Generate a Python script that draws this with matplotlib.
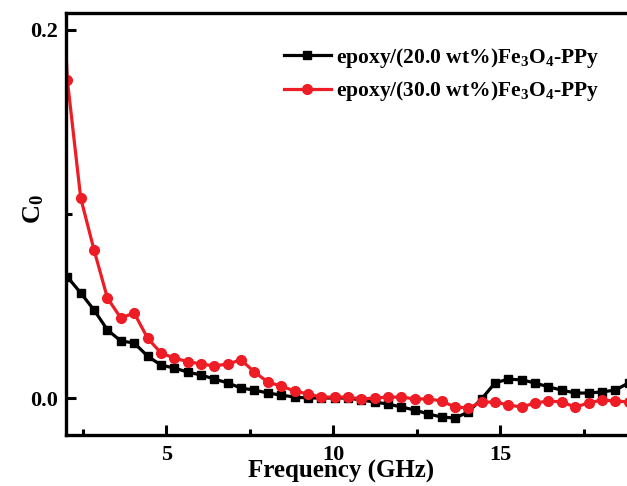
#!/usr/bin/env python3
# -*- coding: utf-8 -*-

"""
C0 versus frequency for the two epoxy/Fe3O4-PPy composites.
"""

import numpy as np
from matplotlib import pyplot as plt
from matplotlib.ticker import MultipleLocator

# frequency grid (GHz), 0.4 GHz step
freq = [2.04 + 0.4 * k for k in range(43)]

c0_20 = [0.0658, 0.0571, 0.0478, 0.0370, 0.0310, 0.0299, 0.0228, 0.0179, 0.0163,
         0.0141, 0.0125, 0.0103, 0.0082, 0.0054, 0.0043, 0.0027, 0.0016, 0.0005,
         0.0000, 0.0000, 0.0000, 0.0000, -0.0011, -0.0022, -0.0033, -0.0049,
         -0.0065, -0.0087, -0.0103, -0.0109, -0.0076, -0.0005, 0.0082, 0.0103,
         0.0098, 0.0082, 0.0060, 0.0043, 0.0027, 0.0027, 0.0033, 0.0043, 0.0082]

# the 30 wt% curve has one extra point just below 2 GHz
freq_30 = [1.9] + freq
c0_30 = [0.227, 0.1728, 0.1087, 0.0804, 0.0543, 0.0435, 0.0462, 0.0326, 0.0245,
         0.0217, 0.0198, 0.0185, 0.0174, 0.0185, 0.0207, 0.0141, 0.0087, 0.0065,
         0.0038, 0.0022, 0.0005, 0.0005, 0.0005, -0.0005, 0.0000, 0.0005, 0.0005,
         -0.0005, -0.0005, -0.0016, -0.0049, -0.0054, -0.0022, -0.0022, -0.0038,
         -0.0049, -0.0027, -0.0016, -0.0022, -0.0049, -0.0027, -0.0011, -0.0016,
         -0.0022]

labels = [r"epoxy/(20.0 wt%)Fe$_3$O$_4$-PPy", r"epoxy/(30.0 wt%)Fe$_3$O$_4$-PPy"]

plt.rcParams["font.family"] = "Liberation Serif"
plt.rcParams["font.weight"] = "bold"
plt.rcParams["mathtext.fontset"] = "custom"
plt.rcParams["mathtext.rm"] = "Liberation Serif:bold"
plt.rcParams["mathtext.it"] = "Liberation Serif:bold"
plt.rcParams["mathtext.bf"] = "Liberation Serif:bold"

fig = plt.figure(figsize=(6.27, 4.86), dpi=100)
ax = fig.add_axes([66 / 627, 51 / 486, (634 - 66) / 627, 422 / 486])

ax.plot(freq, c0_20, "-", color="black", lw=2.3, marker="s", ms=6, label=labels[0])
ax.plot(freq_30, c0_30, "-", color="#ee1c25", lw=2.3, marker="o", ms=7, label=labels[1])

ax.set_xlim(2, 19)
ax.set_ylim(-0.0201, 0.2092)
ax.xaxis.set_major_locator(MultipleLocator(5))
ax.xaxis.set_minor_locator(MultipleLocator(2.5))
ax.yaxis.set_major_locator(MultipleLocator(0.2))
ax.yaxis.set_minor_locator(MultipleLocator(0.1))
ax.yaxis.set_major_formatter(plt.FormatStrFormatter("%.1f"))

for s in ax.spines.values():
    s.set_linewidth(2.4)
ax.tick_params(which="major", direction="in", length=7, width=2.2, labelsize=16, pad=7)
ax.tick_params(which="minor", direction="in", length=4, width=2.2)
ax.tick_params(axis="y", which="both", right=False, pad=6)

ax.set_xlabel("Frequency (GHz)", fontsize=18, fontweight="bold", labelpad=0)
ax.xaxis.set_label_coords((341 - 66) / 568, -0.058)
ax.set_ylabel(r"C$_0$", fontsize=19, fontweight="bold")
ax.yaxis.set_label_coords(-0.036, 0.535)

ax.legend(loc="upper left", bbox_to_anchor=(275 / 627, 1 - 37 / 486),
          bbox_transform=fig.transFigure, frameon=False, fontsize=15.5,
          handlelength=2.2, handletextpad=0.25, labelspacing=0.45, borderaxespad=0)

fig.savefig("out.png", dpi=100)
plt.close()
